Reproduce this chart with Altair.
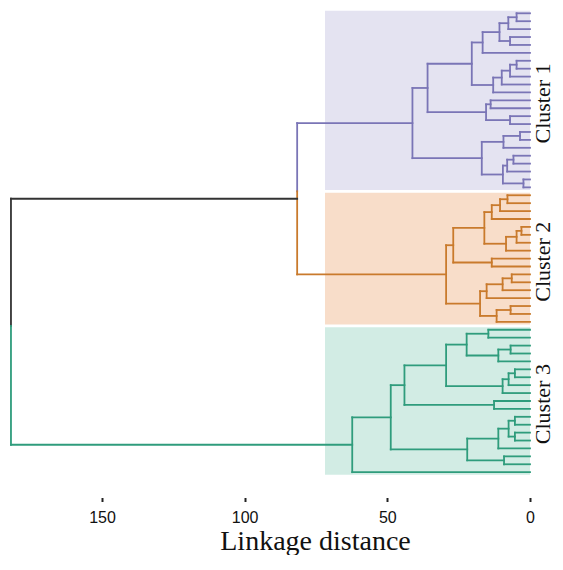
import altair as alt
import pandas as pd

# ---------------- data ----------------
# Trees: (left, right, merge distance); ints are leaf positions (top -> bottom)
c1_tree = (
    (
        (
            ((((0, 1, 4.7), 2, 7.6), (3, 4, 7.0), 10.7), 5, 16.6),
            ((((6, 7, 4.7), 8, 7.0), 9, 9.9), 10, 12.9),
            20.4,
        ),
        ((11, 12, 13.8), (13, 14, 7.0), 15.4),
        35.9,
    ),
    (
        ((15, 16, 3.5), 17, 9.3),
        (((18, 19, 5.8), 20, 8.0), (21, 22, 2.3), 9.5),
        16.9,
    ),
    41.2,
)
c2_tree = (
    (
        ((((23, 24, 7.9), 25, 10.5), 26, 13.4), (((27, 28, 3.0), 29, 4.7), 30, 8.4), 16.0),
        (31, 32, 13.4),
        26.9,
    ),
    (
        (((33, 34, 6.4), 35, 9.6), 36, 15.2),
        ((37, 38, 6.8), 39, 11.7),
        17.5,
    ),
    29.4,
)
c3_tree = (
    (
        (
            (((40, 41, 14.6), ((42, 43, 6.8), 44, 11.1), 22.2), (((45, 46, 5.3), 47, 7.5), 48, 9.6), 29.4),
            (49, 50, 12.6),
            44.0,
        ),
        ((((51, 52, 5.3), (53, 54, 5.3), 7.5), 55, 11.1), (56, 57, 9.1), 22.0),
        48.8,
    ),
    58,
    62.3,
)
cluster_names = ["Cluster 1", "Cluster 2", "Cluster 3"]
cluster_first = [0, 23, 40]
cluster_last = [22, 39, 58]
merge_12 = 81.6
merge_root = 181.9
shade_start = 71.85
tick_values = [0, 50, 100, 150]

groups = ["c1", "c2", "c3", "top"]
line_colors = ["#7a75b6", "#c97a2c", "#2f9c7c", "#333333"]
fill_colors = ["#e4e3f1", "#f8ddc9", "#d2ece4"]

# ---------------- build segments ----------------
segs = []


def build(node, g):
    if isinstance(node, int):
        return float(node), 0.0
    l, r, h = node
    yl, hl = build(l, g)
    yr, hr = build(r, g)
    segs.append(dict(x=hl, x2=h, y=yl, y2=yl, g=g))
    segs.append(dict(x=hr, x2=h, y=yr, y2=yr, g=g))
    segs.append(dict(x=h, x2=h, y=yl, y2=yr, g=g))
    return (yl + yr) / 2, h


y1, h1 = build(c1_tree, "c1")
y2, h2 = build(c2_tree, "c2")
y3, h3 = build(c3_tree, "c3")
b12 = (cluster_last[0] + cluster_first[1]) / 2
b23 = (cluster_last[1] + cluster_first[2]) / 2
y12 = (y1 + y2) / 2
segs += [
    dict(x=h1, x2=merge_12, y=y1, y2=y1, g="c1"),
    dict(x=h2, x2=merge_12, y=y2, y2=y2, g="c2"),
    dict(x=merge_12, x2=merge_12, y=y1, y2=b12, g="c1"),
    dict(x=merge_12, x2=merge_12, y=b12, y2=y2, g="c2"),
    dict(x=merge_12, x2=merge_root, y=y12, y2=y12, g="top"),
    dict(x=h3, x2=merge_root, y=y3, y2=y3, g="c3"),
    dict(x=merge_root, x2=merge_root, y=y12, y2=b23, g="top"),
    dict(x=merge_root, x2=merge_root, y=b23, y2=y3, g="c3"),
]
seg_df = pd.DataFrame(segs)

pad = 0.32
rect_df = pd.DataFrame(
    dict(
        x=[shade_start] * 3,
        x2=[0.0] * 3,
        y=[f - pad for f in cluster_first],
        y2=[l + pad for l in cluster_last],
        g=groups[:3],
    )
)
label_df = pd.DataFrame(
    dict(
        x=[-7.0] * 3,
        y=[(f + l) / 2 + 0.4 for f, l in zip(cluster_first, cluster_last)],
        label=cluster_names,
    )
)

# ---------------- scales / axes ----------------
x_scale = alt.Scale(domain=[-8.76, 182.94], reverse=True, nice=False, zero=False)
y_scale = alt.Scale(domain=[-0.67, 61.2], reverse=True, nice=False, zero=False)
x_axis = alt.Axis(
    values=tick_values,
    domain=False,
    grid=False,
    ticks=True,
    tickSize=4,
    tickWidth=2,
    tickColor="#222222",
    labelFont="Liberation Sans",
    labelFontSize=16,
    labelColor="#111111",
    labelPadding=8,
    title="Linkage distance",
    titleFont="Liberation Serif",
    titleFontSize=28,
    titleFontWeight="normal",
    titleColor="#111111",
    titleBaseline="alphabetic",
    titleX=307,
    titleY=52,
)


def X(field="x"):
    return alt.X(f"{field}:Q", scale=x_scale, axis=x_axis, title="Linkage distance")


def Y(field="y"):
    return alt.Y(f"{field}:Q", scale=y_scale, axis=None)


rects = alt.Chart(rect_df).mark_rect(opacity=1).encode(
    x=X(),
    x2="x2:Q",
    y=Y(),
    y2="y2:Q",
    fill=alt.Fill("g:N", scale=alt.Scale(domain=groups[:3], range=fill_colors), legend=None),
)

lines = alt.Chart(seg_df).mark_rule(strokeWidth=1.8, strokeCap="square").encode(
    x=X(),
    x2="x2:Q",
    y=Y(),
    y2="y2:Q",
    color=alt.Color("g:N", scale=alt.Scale(domain=groups, range=line_colors), legend=None),
)

labels = alt.Chart(label_df).mark_text(
    angle=270,
    font="Liberation Serif",
    fontSize=22,
    align="center",
    baseline="alphabetic",
    color="#111111",
).encode(x=X(), y=Y(), text="label:N")

chart = (
    alt.layer(rects, lines, labels)
    .resolve_scale(color="independent")
    .properties(
        width=547,
        height=489.5,
        padding={"left": 0, "top": 0, "right": 0, "bottom": 57},
        autosize=alt.AutoSizeParams(type="none"),
        background="white",
    )
    .configure_view(stroke=None)
)

chart.save("out.html", embed_options={"renderer": "svg", "actions": False})
